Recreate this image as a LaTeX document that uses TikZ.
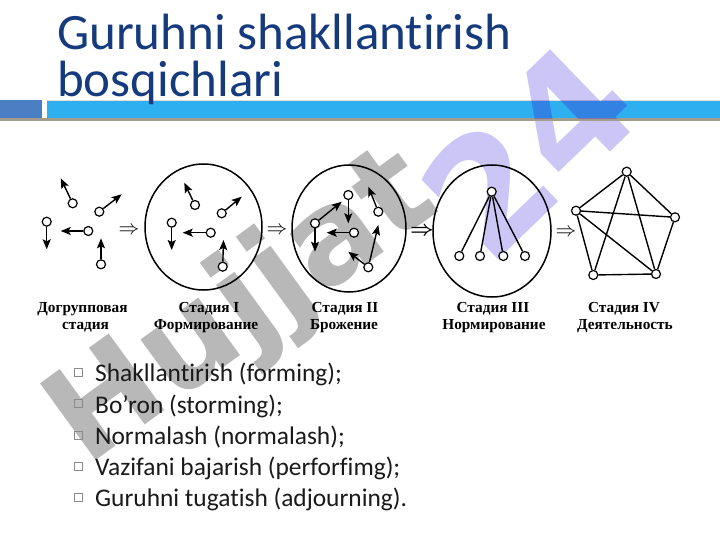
\documentclass[tikz,border=0pt]{standalone}
\usepackage{fontspec}
\setmainfont{Carlito}[Ligatures=NoCommon]
\newfontfamily\labfont{Liberation Serif}
\newfontfamily\wmfont{DejaVu Sans}
\usetikzlibrary{arrows.meta,shapes.geometric}
\definecolor{titleblue}{HTML}{163A7E}
\definecolor{blockblue}{HTML}{4A7FC3}
\definecolor{barblue}{HTML}{2EB0F0}
\definecolor{shadowline}{HTML}{A39C8C}
\definecolor{bulletgrey}{HTML}{8A8A8A}
\definecolor{bodytext}{HTML}{1A1A1A}
\definecolor{wmgrey}{HTML}{B8B8B8}
\definecolor{wmlav}{HTML}{CCC6F6}
\definecolor{wmlavdeep}{HTML}{3A2ED0}
\tikzset{
  pnode/.style={circle, draw, fill=white, line width=1.2pt, minimum size=9pt, inner sep=0pt},
  arr/.style={line width=1.4pt, -{Stealth[length=10pt,width=8pt,inset=2pt]}},
  link/.style={line width=1.4pt},
  ring/.style={ellipse, draw, line width=1.5pt, inner sep=0pt},
  lab/.style={font=\labfont\bfseries\fontsize{15.3}{17}\selectfont, anchor=base, inner sep=0pt},
  implies/.style={font=\fontsize{21}{21}\selectfont, inner sep=0pt},
  impliesbold/.style={font=\fontsize{22}{22}\selectfont\boldmath, inner sep=0pt},
  bsq/.style={draw=bulletgrey, line width=0.6pt, minimum size=8pt, inner sep=0pt},
  btext/.style={font=\fontsize{25.4}{30}\selectfont, text=bodytext, anchor=base west, inner sep=0pt},
  ttext/.style={font=\fontsize{51}{51}\selectfont, text=titleblue, anchor=base west, inner sep=0pt},
  wmgreytext/.style={rotate=36, anchor=base west, inner sep=0pt, text=wmgrey,
                     font=\wmfont\bfseries\fontsize{130}{130}\selectfont},
  wmlavtext/.style={rotate=44, anchor=center, inner sep=0pt,
                    font=\wmfont\bfseries\fontsize{158}{158}\selectfont},
}
\begin{document}
\begin{tikzpicture}[x=1pt,y=-1pt]
\useasboundingbox (0,0) rectangle (720,540);
\fill[white] (0,0) rectangle (720,540);
% watermark (behind)
\node[wmgreytext] (wmg) at (86,468) {Hujjat};
\node[wmlavtext, text=wmlav] (wml) at (528,150) {24};
% header bar
\fill[shadowline] (0,118) rectangle (720,121);
\fill[blockblue] (0,100) rectangle (42,118.5);
\fill[barblue] (47,101) rectangle (720,118.5);
\draw[line width=0.6pt, color=red!10!gray!25] (47,100) -- (720,100);
\begin{scope}
  \clip (47,101) rectangle (720,118.5);
  \node[wmlavtext, text=wmlavdeep, text opacity=0.35] (wmlbar) at (528,150) {24};
\end{scope}
% title
\node[ttext] (t1) at (57,50) {Guruhni shakllantirish};
\node[ttext] (t2) at (57,97) {bosqichlari};

% ---------- stage 0
\node[pnode] (a0) at (72.7,203.3) {};
\node[pnode] (b0) at (99.3,211.7) {};
\node[pnode] (c0) at (46.7,221.7) {};
\node[pnode] (d0) at (88.3,231) {};
\node[pnode] (e0) at (101,264.3) {};
\coordinate (a0t) at (60.7,178.3);
\coordinate (b0t) at (121.7,194.3);
\coordinate (c0t) at (46.7,249.3);
\coordinate (d0t) at (60.7,231);
\coordinate (e0t) at (101,238.3);
\draw[arr] (a0) -- (a0t);
\draw[arr] (b0) -- (b0t);
\draw[arr] (c0) -- (c0t);
\draw[arr] (d0) -- (d0t);
\draw[arr] (e0) -- (e0t);
\node[implies] (im1) at (129,231) {$\Rightarrow$};

% ---------- stage 1
\node[ring, minimum width=117pt, minimum height=126pt] (r1) at (203.5,227) {};
\node[pnode] (a1) at (195,205) {};
\node[pnode] (b1) at (221.7,213.3) {};
\node[pnode] (c1) at (171.7,222.7) {};
\node[pnode] (d1) at (210.7,232.7) {};
\node[pnode] (e1) at (222.7,266.7) {};
\coordinate (a1t) at (184.3,182.7);
\coordinate (b1t) at (241.7,196.7);
\coordinate (c1t) at (171.7,250);
\coordinate (d1t) at (182.7,232.7);
\coordinate (e1t) at (223.5,240);
\draw[arr] (a1) -- (a1t);
\draw[arr] (b1) -- (b1t);
\draw[arr] (c1) -- (c1t);
\draw[arr] (d1) -- (d1t);
\draw[arr] (e1) -- (e1t);
\node[implies] (im2) at (277,231) {$\Rightarrow$};

% ---------- stage 2
\node[ring, minimum width=114pt, minimum height=127pt] (r2) at (349,228.5) {};
\node[pnode] (a2) at (348.3,195) {};
\node[pnode] (b2) at (378.3,211.7) {};
\node[pnode] (c2) at (315,223.3) {};
\node[pnode] (d2) at (354,232.7) {};
\node[pnode] (e2) at (368.3,267.3) {};
\coordinate (a2t) at (348.3,223.3);
\coordinate (b2t) at (368.3,186.7);
\coordinate (c2t) at (315,251.7);
\coordinate (c2u) at (341.7,201.7);
\coordinate (d2t) at (326.7,232.7);
\coordinate (e2t) at (348.3,251.7);
\coordinate (e2u) at (378.3,225);
\draw[arr] (a2) -- (a2t);
\draw[arr] (b2) -- (b2t);
\draw[arr] (c2) -- (c2t);
\draw[arr] (c2) -- (c2u);
\draw[arr] (d2) -- (d2t);
\draw[arr] (e2) -- (e2t);
\draw[arr] (e2) -- (e2u);
\node[impliesbold] (im3) at (422,231) {$\Rightarrow$};

% ---------- stage 3
\node[ring, minimum width=118pt, minimum height=132pt] (r3) at (492,231) {};
\node[pnode] (h3) at (491.7,191.7) {};
\node[pnode] (m1) at (459.3,256) {};
\node[pnode] (m2) at (480,256) {};
\node[pnode] (m3) at (503.3,256) {};
\node[pnode] (m4) at (525,256) {};
\draw[link] (h3) -- (m1);
\draw[link] (h3) -- (m2);
\draw[link] (h3) -- (m3);
\draw[link] (h3) -- (m4);
\node[implies] (im4) at (566,233) {$\Rightarrow$};

% ---------- stage 4
\node[pnode] (p1) at (626.7,171.7) {};
\node[pnode] (p2) at (576,210.7) {};
\node[pnode] (p3) at (675,217.3) {};
\node[pnode] (p4) at (593.3,275) {};
\node[pnode] (p5) at (656,274) {};
\draw[link] (p1) -- (p2);
\draw[link] (p1) -- (p3);
\draw[link] (p2) -- (p3);
\draw[link] (p2) -- (p4);
\draw[link] (p3) -- (p5);
\draw[link] (p4) -- (p5);
\draw[link] (p1) -- (p4);
\draw[link] (p1) -- (p5);
\draw[link] (p2) -- (p5);

% ---------- labels
\node[lab] (l0a) at (82.5,312) {Догрупповая};
\node[lab] (l0b) at (85.5,329) {стадия};
\node[lab] (l1a) at (209,312) {Стадия I};
\node[lab] (l1b) at (206,329) {Формирование};
\node[lab] (l2a) at (345,312) {Стадия II};
\node[lab] (l2b) at (344,329) {Брожение};
\node[lab] (l3a) at (493,312) {Стадия III};
\node[lab] (l3b) at (494,329) {Нормирование};
\node[lab] (l4a) at (624,312) {Стадия IV};
\node[lab] (l4b) at (625,329) {Деятельность};

% ---------- bullets
\node[bsq] (q1) at (78,372.4) {};
\node[btext] (w1) at (95,381.7) {Shakllantirish (forming);};
\node[bsq] (q2) at (78,403.7) {};
\node[btext] (w2) at (95,413) {Bo’ron (storming);};
\node[bsq] (q3) at (78,434.9) {};
\node[btext] (w3) at (95,444.2) {Normalash (normalash);};
\node[bsq] (q4) at (78,466.1) {};
\node[btext] (w4) at (95,475.4) {Vazifani bajarish (perforfimg);};
\node[bsq] (q5) at (78,497.3) {};
\node[btext] (w5) at (95,506.6) {Guruhni tugatish (adjourning).};
\end{tikzpicture}
\end{document}
